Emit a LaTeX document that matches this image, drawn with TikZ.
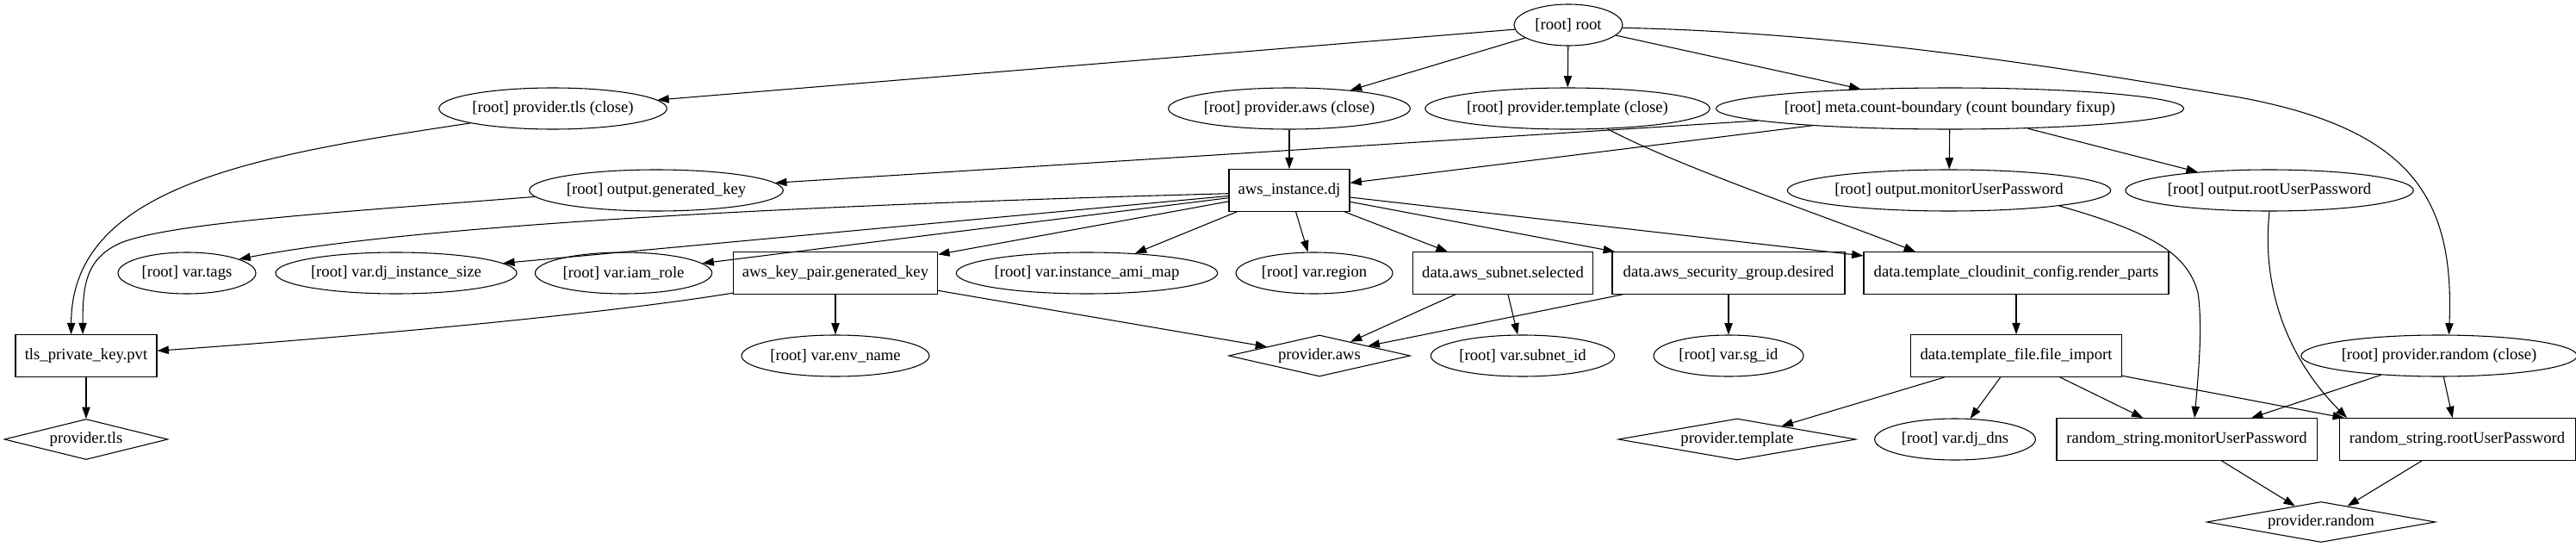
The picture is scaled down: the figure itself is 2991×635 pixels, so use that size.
\documentclass[tikz,border=0pt]{standalone}
\usepackage{fontspec}
\setmainfont{Liberation Serif}
\usetikzlibrary{shapes.geometric,arrows.meta,calc}
\begin{document}
\begin{tikzpicture}[x=0.75pt,y=-0.75pt,
  every node/.style={font=\fontsize{14}{16}\selectfont, line width=0.8pt, inner sep=0pt},
  ell/.style={draw, ellipse, minimum height=36pt},
  bx/.style={draw, rectangle, minimum height=36.5pt},
  dia/.style={draw, diamond, minimum height=36pt},
  conn/.style={draw, line width=0.8pt, -{Triangle[length=10pt,width=7pt]}}]
\useasboundingbox (0,0) rectangle (2991,635);
% row 1
\node[ell, minimum width=94.5pt] (root) at (1821,29) {[root] root};
% row 2
\node[ell, minimum width=198pt] (ptls) at (642,126) {[root] provider.tls (close)};
\node[ell, minimum width=209pt] (paws) at (1497,126) {[root] provider.aws (close)};
\node[ell, minimum width=242pt] (ptpl) at (1820,126) {[root] provider.template (close)};
\node[ell, minimum width=388pt] (meta) at (2264,126) {[root] meta.count-boundary (count boundary fixup)};
% row 3
\node[ell, minimum width=217.5pt] (ogk) at (762,221) {[root] output.generated\_key};
\node[bx, minimum width=105pt] (inst) at (1497,221) {aws\_instance.dj};
\node[ell, minimum width=274pt] (omon) at (2263,221) {[root] output.monitorUserPassword};
\node[ell, minimum width=247pt] (oroot) at (2635,221) {[root] output.rootUserPassword};
% row 4
\node[ell, minimum width=120pt] (tags) at (217,317) {[root] var.tags};
\node[ell, minimum width=208pt] (djsize) at (460,317) {[root] var.dj\_instance\_size};
\node[ell, minimum width=154pt] (iam) at (724,317) {[root] var.iam\_role};
\node[bx, minimum width=178pt] (kp) at (970,317) {aws\_key\_pair.generated\_key};
\node[ell, minimum width=223.5pt] (ami) at (1262,317) {[root] var.instance\_ami\_map};
\node[ell, minimum width=136.5pt] (region) at (1526,317) {[root] var.region};
\node[bx, minimum width=157pt] (subnet) at (1745,317) {data.aws\_subnet.selected};
\node[bx, minimum width=202.5pt] (sg) at (2007,317) {data.aws\_security\_group.desired};
\node[bx, minimum width=265.5pt] (cinit) at (2341,317) {data.template\_cloudinit\_config.render\_parts};
% row 5
\node[bx, minimum width=123pt] (tls) at (100,413) {tls\_private\_key.pvt};
\node[ell, minimum width=163.5pt] (envname) at (970,413) {[root] var.env\_name};
\node[dia, minimum width=158pt, aspect=4.4] (pawsd) at (1532,413) {provider.aws};
\node[ell, minimum width=160pt] (subid) at (1768,413) {[root] var.subnet\_id};
\node[ell, minimum width=130.5pt] (sgid) at (2007,413) {[root] var.sg\_id};
\node[bx, minimum width=184pt] (fimp) at (2341,413) {data.template\_file.file\_import};
\node[ell, minimum width=234pt] (prandc) at (2832,413) {[root] provider.random (close)};
% row 6
\node[dia, minimum width=142.5pt, minimum height=35.25pt, aspect=4] (ptlsd) at (100,510) {provider.tls};
\node[dia, minimum width=207pt, aspect=5.75] (ptpld) at (2017,510) {provider.template};
\node[ell, minimum width=140pt] (djdns) at (2270,510) {[root] var.dj\_dns};
\node[bx, minimum width=226.5pt] (rmon) at (2539,510) {random\_string.monitorUserPassword};
\node[bx, minimum width=205.5pt] (rroot) at (2853,510) {random\_string.rootUserPassword};
% row 7
\node[dia, minimum width=199pt, minimum height=35.25pt, aspect=5.6] (prand) at (2695,606) {provider.random};

% edges from root
\draw[conn] (root) -- (ptls);
\draw[conn] (root) -- (paws);
\draw[conn] (root) -- (ptpl);
\draw[conn] (root) -- (meta);
\draw[conn] (root.-3) .. controls (2150,38) and (2400,80) .. (2600,113)
  .. controls (2800,150) and (2850,230) .. (prandc.65);
% meta
\draw[conn] (meta) -- (inst);
\draw[conn] (meta) -- (ogk);
\draw[conn] (meta) -- (omon);
\draw[conn] (meta) -- (oroot);
% providers (close)
\draw[conn] (paws) -- (inst);
\draw[conn] (ptpl.-27.6) .. controls (1950,194) and (2130,255) .. (cinit.168);
\draw[conn] (ptls.190) .. controls (300,180) and (83,215) .. (tls.125);
\draw[conn] (ogk.183) .. controls (400,246) and (200,258) .. (140,282)
  .. controls (100,300) and (96,330) .. (tls.99);
% aws_instance
\draw[conn] (inst.183) .. controls (1000,236) and (500,258) .. (tags.15);
\draw[conn] (inst) -- (djsize);
\draw[conn] (inst) -- (iam);
\draw[conn] (inst) -- (kp);
\draw[conn] (inst) -- (ami);
\draw[conn] (inst) -- (region);
\draw[conn] (inst) -- (subnet);
\draw[conn] (inst) -- (sg);
\draw[conn] (inst) -- (cinit);
% key pair
\draw[conn] (kp.191) .. controls (700,365) and (400,392) .. (tls.4);
\draw[conn] (kp) -- (envname);
\draw[conn] (kp) -- (pawsd);
% data sources
\draw[conn] (subnet) -- (pawsd);
\draw[conn] (subnet) -- (subid);
\draw[conn] (sg) -- (pawsd);
\draw[conn] (sg) -- (sgid);
\draw[conn] (cinit) -- (fimp);
\draw[conn] (fimp) -- (ptpld);
\draw[conn] (fimp) -- (djdns);
\draw[conn] (fimp) -- (rmon);
\draw[conn] (fimp) -- (rroot);
% outputs to random strings
\draw[conn] (omon.-8.5) .. controls (2500,270) and (2540,295) .. (2552,340)
  .. controls (2558,380) and (2552,440) .. (rmon.70);
\draw[conn] (oroot.south) .. controls (2625,340) and (2660,420) .. (rroot.169);
\draw[conn] (prandc) -- (rmon);
\draw[conn] (prandc) -- (rroot);
\draw[conn] (rmon) -- (prand);
\draw[conn] (rroot) -- (prand);
\draw[conn] (tls) -- (ptlsd);
\end{tikzpicture}
\end{document}
